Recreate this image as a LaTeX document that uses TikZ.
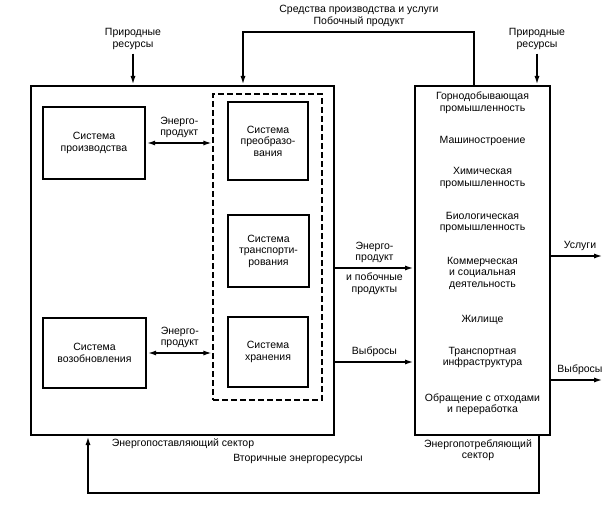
\documentclass[tikz,border=0pt]{standalone}
\usepackage{fontspec}
\setmainfont{Liberation Sans}
\usetikzlibrary{arrows.meta,positioning}

\tikzset{
	sector/.style={draw, line width=2pt, inner sep=0pt},
	sysbox/.style={draw, line width=2.4pt, align=center, inner sep=0pt},
	lbl/.style={align=center, inner sep=0pt},
	flow/.style={line width=2pt, -{Latex[length=9pt,width=5pt]}},
	flows/.style={line width=2pt, {Latex[length=9pt,width=5pt]}-{Latex[length=9pt,width=5pt]}}
}

\begin{document}
\begin{tikzpicture}[x=1pt, y=-1pt, font=\fontsize{10.5}{11.5}\selectfont]
	\useasboundingbox (0,0) rectangle (616,508);
	% sectors
	\node [sector, minimum width=303pt, minimum height=349pt] (supply) at (182.5,260.5) {};
	\node [sector, minimum width=135pt, minimum height=349pt] (consumer) at (482.5,260.5) {};
	% supply systems
	\node [sysbox, minimum width=102pt, minimum height=72pt] (prod) at (94,143) 
		{Система\\производства};
	\node [sysbox, minimum width=103pt, minimum height=70pt] (renew) at (94.5,353) 
		{Система\\возобновления};
	\node [draw, line width=1.3pt, dash pattern=on 6pt off 3pt, minimum width=109pt, minimum height=306pt] (infra) at (267.5,247) {};
	\node [sysbox, minimum width=80pt, minimum height=78pt] (conv) at (268,141) 
		{Система\\преобразо-\\вания};
	\node [sysbox, minimum width=81pt, minimum height=72pt] (trans) at (268.5,251) 
		{Система\\транспорти-\\рования};
	\node [sysbox, minimum width=80pt, minimum height=70pt] (store) at (268,352) 
		{Система\\хранения};
	\draw [flows] (prod.east) to 
		node [lbl, above=4pt] {Энерго-\\продукт} 
		(prod.east -| infra.west);
	\draw [flows] (renew.east) to 
		node [lbl, above=4pt] {Энерго-\\продукт} 
		(renew.east -| infra.west);
	% consumer branches
	\node [lbl] (mining) at (482.5,102.5) {Горнодобывающая\\промышленность};
	\node [lbl] (mach) at (482.5,141) {Машиностроение};
	\node [lbl] (chem) at (482.5,178) {Химическая\\промышленность};
	\node [lbl] (bio) at (482.5,222.5) {Биологическая\\промышленность};
	\node [lbl] (comm) at (482.5,273) {Коммерческая\\и социальная\\деятельность};
	\node [lbl] (house) at (482.5,320) {Жилище};
	\node [lbl] (transp) at (482.5,357.5) {Транспортная\\инфраструктура};
	\node [lbl] (waste) at (482.5,404) {Обращение с отходами\\и переработка};
	% sector names
	\node [lbl] (supname) at (183,444) {Энергопоставляющий сектор};
	\node [lbl] (conname) at (478,450) {Энергопотребляющий\\сектор};
	% natural resources
	\node [lbl] (res1) at (133,39) {Природные\\ресурсы};
	\node [lbl] (res2) at (537,39) {Природные\\ресурсы};
	\draw [flow] ([yshift=-4pt]res1.south) to (res1 |- supply.north);
	\draw [flow] ([yshift=-4pt]res2.south) to (res2 |- consumer.north);
	% supply to consumer
	\coordinate (p1) at (378,268);
	\coordinate (p2) at (378,362);
	\draw [flow] (p1 -| supply.east) to 
		node [lbl, above=4pt] {Энерго-\\продукт} 
		node [lbl, below=4pt] {и побочные\\продукты} 
		(p1 -| consumer.west);
	\draw [flow] (p2 -| supply.east) to 
		node [lbl, above=4pt] {Выбросы} 
		(p2 -| consumer.west);
	% outputs
	\coordinate (svc) at (603,256);
	\coordinate (emis) at (603,380);
	\draw [flow] (svc -| consumer.east) to 
		node [lbl, above=4pt, xshift=3pt] {Услуги} 
		(svc);
	\draw [flow] (emis -| consumer.east) to 
		node [lbl, above=4pt, xshift=3pt] {Выбросы} 
		(emis);
	% top loop
	\coordinate (up) at (474,32);
	\coordinate (upl) at (243,32);
	\node [lbl] (means) at (359,16) {Средства производства и услуги\\Побочный продукт};
	\draw [flow] (up |- consumer.north) -- (up) -- (upl) -- (upl |- supply.north);
	% bottom loop
	\coordinate (dn) at (539,493);
	\coordinate (dnl) at (88,493);
	\node [lbl] (second) at (298,459) {Вторичные энергоресурсы};
	\draw [flow] (dn |- consumer.south) -- (dn) -- (dnl) -- (dnl |- supply.south);
\end{tikzpicture}
\end{document}
